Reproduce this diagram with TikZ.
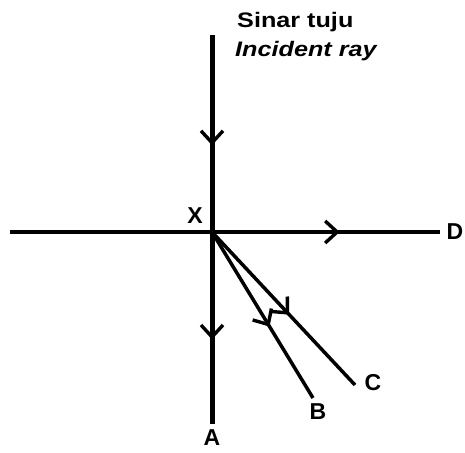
\documentclass[tikz,border=0pt]{standalone}
\usepackage{fontspec}
\setmainfont{Liberation Sans}
\usetikzlibrary{arrows.meta,decorations.markings}
\begin{document}
\begin{tikzpicture}[x=1pt,y=-1pt,
  ray/.style={line width=3.5pt, line cap=butt},
  mainray/.style={line width=5pt},
  arrowat/.style={postaction={decorate},
    decoration={markings, mark=at position #1 with {\arrow{Straight Barb[length=12pt,width=22pt,line width=3.4pt]}}}},
  lbl/.style={font=\bfseries\fontsize{23}{26}\selectfont, inner sep=0pt},
  title/.style={font=\bfseries\fontsize{21}{24}\selectfont, inner sep=0pt, anchor=west}
]
\useasboundingbox (0,0) rectangle (465,452);
\coordinate (X) at (212,232);
\coordinate (top) at (212,35);
\coordinate (Aend) at (212,424);
\coordinate (Dend) at (440,232);
\coordinate (left) at (10,232);
\coordinate (Bend) at (313,398);
\coordinate (Cend) at (355,385);
% rays
\draw[ray] (left) -- (X);
\draw[ray, arrowat=0.56] (X) -- (Dend);
\draw[mainray, arrowat=0.56] (top) -- (X);
\draw[mainray, arrowat=0.56] (X) -- (Aend);
\draw[ray, arrowat=0.57] (X) -- (Bend);
\draw[ray, arrowat=0.54] (X) -- (Cend);
% labels
\node[lbl] (lX) at (195,216) {X};
\node[lbl] (lD) at (455,232) {D};
\node[lbl, anchor=base] (lA) at (212,445) {A};
\node[lbl] (lB) at (318,412) {B};
\node[lbl] (lC) at (373,383) {C};
\node[title] (t1) at (237,22) {\scalebox{1.2}[1]{Sinar tuju}};
\node[title] (t2) at (235,51) {\scalebox{1.2}[1]{\itshape Incident ray}};
\end{tikzpicture}
\end{document}
